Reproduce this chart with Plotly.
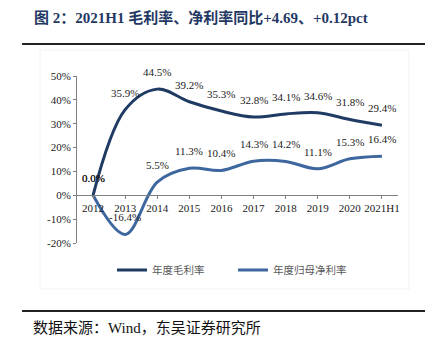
import plotly.graph_objects as go

categories = ["2012", "2013", "2014", "2015", "2016", "2017", "2018", "2019", "2020", "2021H1"]
gross_margin = [0.0, 35.9, 44.5, 39.2, 35.3, 32.8, 34.1, 34.6, 31.8, 29.4]
net_margin = [0.0, -16.4, 5.5, 11.3, 10.4, 14.3, 14.2, 11.1, 15.3, 16.4]
y_ticks = [-20, -10, 0, 10, 20, 30, 40, 50]
series_names = ["年度毛利率", "年度归母净利率"]

W, H = 430, 352
L, R, T, B = 77, 398, 76, 243  # plot area in pixels
YMIN, YMAX = -20, 50

def px(x):
    return (x - L) / (R - L)

def py(y):
    return (B - y) / (B - T)

SERIF = "Times New Roman, Liberation Serif, Noto Sans CJK SC"
CJK = "Noto Sans CJK SC"
C_GROSS = "#1f3a63"
C_NET = "#3d679e"

fig = go.Figure()
for name, vals, col in [(series_names[0], gross_margin, C_GROSS), (series_names[1], net_margin, C_NET)]:
    fig.add_trace(go.Scatter(
        x=list(range(len(categories))), y=vals, mode="lines", name=name,
        line=dict(color=col, width=3, shape="spline", smoothing=1.0),
        hoverinfo="skip",
    ))

annotations = []
for vals in (gross_margin, net_margin):
    for i, v in enumerate(vals):
        annotations.append(dict(
            x=i, y=v, xref="x", yref="y", text=f"{v:.1f}%", showarrow=False,
            yshift=17, xanchor="center", yanchor="middle",
            font=dict(family=SERIF, size=11, color="#1a1a1a"),
        ))

annotations.append(dict(
    x=px(32), y=py(18), xref="paper", yref="paper", xanchor="left", yanchor="middle",
    text="<b>图 2：2021H1 毛利率、净利率同比+4.69、+0.12pct</b>", showarrow=False,
    font=dict(family=SERIF, size=15, color="#1f3864"),
))
annotations.append(dict(
    x=px(31), y=py(328), xref="paper", yref="paper", xanchor="left", yanchor="middle",
    text="数据来源：Wind，东吴证券研究所", showarrow=False,
    font=dict(family=SERIF, size=15, color="#111111"),
))

shapes = [
    dict(type="line", xref="paper", yref="paper", x0=px(22), x1=px(425), y0=py(44), y1=py(44),
         line=dict(color="#222222", width=2)),
    dict(type="line", xref="paper", yref="paper", x0=px(22), x1=px(425), y0=py(311), y1=py(311),
         line=dict(color="#222222", width=2)),
    dict(type="rect", xref="paper", yref="paper", x0=px(40), x1=px(409), y0=py(289), y1=py(50),
         line=dict(color="#f2f2f2", width=1), layer="below"),
]

fig.update_layout(
    width=W, height=H,
    margin=dict(l=L, r=W - R, t=T, b=H - B, pad=0),
    paper_bgcolor="white", plot_bgcolor="white",
    showlegend=True,
    legend=dict(
        orientation="h", x=px(112), y=py(270), xanchor="left", yanchor="middle",
        font=dict(family=CJK, size=10.5, color="#595959"),
        entrywidth=76, entrywidthmode="pixels",
        bgcolor="rgba(0,0,0,0)", itemclick=False,
    ),
    xaxis=dict(
        range=[-0.5, len(categories) - 0.5],
        tickvals=list(range(len(categories))), ticktext=categories,
        anchor="free", position=(0 - YMIN) / (YMAX - YMIN),
        showline=True, linecolor="#808080", linewidth=1,
        ticks="outside", ticklen=3, tickcolor="#808080",
        showgrid=False, zeroline=False,
        tickfont=dict(family=SERIF, size=11, color="#1a1a1a"),
    ),
    yaxis=dict(
        range=[YMIN, YMAX], tickvals=y_ticks, ticktext=[f"{v}%" for v in y_ticks],
        showline=True, linecolor="#808080", linewidth=1,
        ticks="outside", ticklen=3, tickcolor="#808080",
        showgrid=False, zeroline=False,
        tickfont=dict(family=SERIF, size=11, color="#1a1a1a"),
    ),
    annotations=annotations, shapes=shapes,
)

fig.write_html("out.html")
